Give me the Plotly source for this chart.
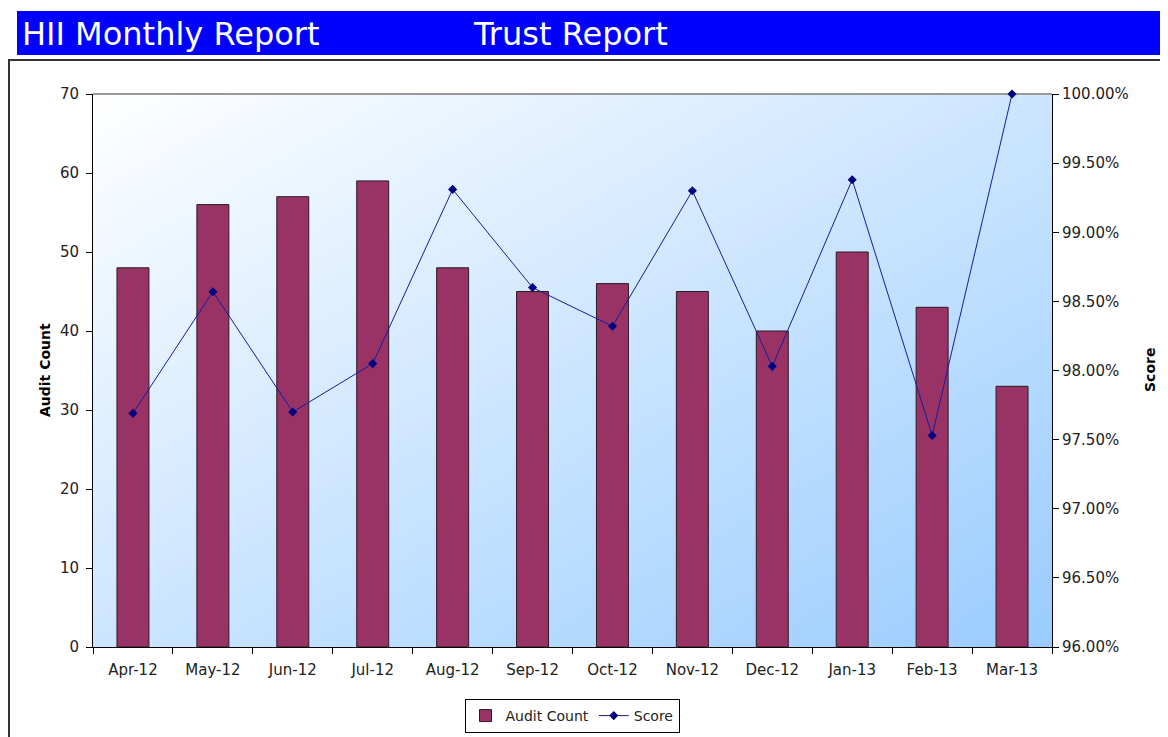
import base64
import plotly.graph_objects as go

# data
months = ["Apr-12", "May-12", "Jun-12", "Jul-12", "Aug-12", "Sep-12",
          "Oct-12", "Nov-12", "Dec-12", "Jan-13", "Feb-13", "Mar-13"]
audit_count = [48, 56, 57, 59, 48, 45, 46, 45, 40, 50, 43, 33]
score_pct = [97.69, 98.57, 97.70, 98.05, 99.31, 98.60,
             98.32, 99.30, 98.03, 99.38, 97.53, 100.00]

# the page body has an 8px margin, so the figure starts at (8, 8)
OFF = 8
W, H = 1168 - OFF, 737 - OFF
L, R, T, B = 93, 1052, 94, 647  # plot area in screen pixels


def px(x):
    return (x - L) / (R - L)


def py(y):
    return (B - y) / (B - T)


FONT = "DejaVu Sans"

# diagonal gradient for the plot background (white -> light blue)
svg = (
    '<svg xmlns="http://www.w3.org/2000/svg" width="200" height="200" preserveAspectRatio="none">'
    '<defs><linearGradient id="g" x1="0" y1="0" x2="1" y2="1">'
    '<stop offset="0" stop-color="#ffffff"/><stop offset="1" stop-color="#99ccff"/>'
    '</linearGradient></defs><rect width="200" height="200" fill="url(#g)"/></svg>'
)
bg_uri = "data:image/svg+xml;base64," + base64.b64encode(svg.encode()).decode()

fig = go.Figure()
fig.add_trace(go.Bar(
    x=months, y=audit_count, name="Audit Count",
    marker=dict(color="#993366", line=dict(color="#2b1a22", width=1)),
))
fig.add_trace(go.Scatter(
    x=months, y=score_pct, name="Score", yaxis="y2",
    mode="lines+markers", cliponaxis=False,
    line=dict(color="#1a1a99", width=1),
    marker=dict(symbol="diamond", size=7, color="#000080"),
))

fig.update_layout(
    width=W, height=H, autosize=False,
    margin=dict(l=L - OFF, r=W - (R - OFF), t=T - OFF, b=H - (B - OFF), autoexpand=False),
    paper_bgcolor="white",
    plot_bgcolor="rgba(0,0,0,0)",
    font=dict(family=FONT, size=14, color="#222"),
    bargap=0.6,
    showlegend=True,
    legend=dict(orientation="h", x=px(572), xanchor="center", y=py(716), yanchor="middle",
                bordercolor="black", borderwidth=1, bgcolor="white",
                font=dict(family=FONT, size=14, color="#222"),
                traceorder="normal"),
    xaxis=dict(range=[-0.5, len(months) - 0.5], showline=True, linecolor="black",
               linewidth=1, ticks="outside", tickson="boundaries", ticklen=6,
               tickcolor="black", showgrid=False, tickfont=dict(size=15),
               ticklabelstandoff=9),
    yaxis=dict(range=[0, 70], dtick=10, showline=True, linecolor="black", linewidth=1,
               ticks="outside", ticklen=6, tickcolor="black", showgrid=False,
               zeroline=False, tickfont=dict(size=15), ticklabelstandoff=4),
    yaxis2=dict(range=[96, 100], dtick=0.5, overlaying="y", side="right",
                tickformat=".2f", ticksuffix="%", showline=True, linecolor="black",
                linewidth=1, ticks="outside", ticklen=6, tickcolor="black",
                showgrid=False, zeroline=False, tickfont=dict(size=15)),
    images=[dict(source=bg_uri, xref="paper", yref="paper", x=0, y=1,
                 sizex=1, sizey=1, sizing="stretch", layer="below")],
    shapes=[
        # title bar
        dict(type="rect", xref="paper", yref="paper", x0=px(17), x1=px(1170),
             y0=py(55), y1=py(11), fillcolor="#0000ff", line=dict(width=0), layer="below"),
        # chart border
        dict(type="rect", xref="paper", yref="paper", x0=px(9), x1=px(1180),
             y0=py(760), y1=py(60), fillcolor="rgba(0,0,0,0)",
             line=dict(color="#333", width=2)),
        # top edge of plot area
        dict(type="line", xref="paper", yref="paper", x0=0, x1=1, y0=1, y1=1,
             line=dict(color="#999", width=2), layer="below"),
    ],
    annotations=[
        dict(text="HII Monthly Report", xref="paper", yref="paper", x=px(20), y=py(34),
             xanchor="left", yanchor="middle", showarrow=False,
             font=dict(family=FONT, size=32, color="white")),
        dict(text="Trust Report", xref="paper", yref="paper", x=px(471), y=py(34),
             xanchor="left", yanchor="middle", showarrow=False,
             font=dict(family=FONT, size=32, color="white")),
        dict(text="<b>Audit Count</b>", xref="paper", yref="paper", x=px(45), y=py(370),
             xanchor="center", yanchor="middle", textangle=-90, showarrow=False,
             font=dict(family=FONT, size=14, color="black")),
        dict(text="<b>Score</b>", xref="paper", yref="paper", x=px(1150), y=py(370),
             xanchor="center", yanchor="middle", textangle=-90, showarrow=False,
             font=dict(family=FONT, size=14, color="black")),
    ],
)

fig.write_html("out.html")
